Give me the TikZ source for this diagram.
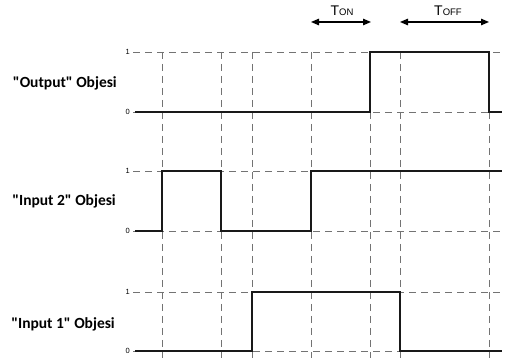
\documentclass[tikz,border=0pt]{standalone}
\usepackage{fontspec}
\setmainfont{Liberation Sans}
\newfontfamily\lbl{Carlito}
\usetikzlibrary{arrows.meta}

\begin{document}
\begin{tikzpicture}[x=1pt,y=-1pt,
  grid/.style={draw=black!55, line width=0.8pt, dash pattern=on 7pt off 5pt},
  sig/.style={draw=black!90, line width=1.8pt, line join=miter},
  span/.style={draw=black, line width=1.3pt,
    {Triangle[length=8pt,width=6.5pt]}-{Triangle[length=8pt,width=6.5pt]}},
  rowlabel/.style={font=\lbl\bfseries\fontsize{15.5}{17}\selectfont, anchor=east, inner sep=0pt},
  level/.style={font=\fontsize{7.5}{8}\selectfont, anchor=east, inner sep=0pt},
  tlabel/.style={inner sep=0pt, font=\fontsize{14}{14}\selectfont},
  ]
\useasboundingbox (0,0) rectangle (512,358);

% time grid
\foreach \x in {162,221,252,311,370,400,489}
  \draw[grid] (\x,52) -- (\x,358);
\foreach \y in {52,112,171,231,292,351}
  \draw[grid] (133,\y) -- (502,\y);

% level marks
\foreach \y/\t in {52/1,112/0,171/1,231/0,292/1,351/0}
  \node[level] at (130,\y) {\t};

% row captions
\node[rowlabel] (out)  at (117,83)  {"Output" Objesi};
\node[rowlabel] (in2)  at (116,201) {"Input 2" Objesi};
\node[rowlabel] (in1)  at (115,324) {"Input 1" Objesi};

% signal traces
\draw[sig] (135,112) -- (370,112) -- (370,52) -- (489,52) -- (489,112) -- (502,112);
\draw[sig] (135,231) -- (162,231) -- (162,171) -- (221,171) -- (221,231)
  -- (311,231) -- (311,171) -- (502,171);
\draw[sig] (135,351) -- (252,351) -- (252,292) -- (400,292) -- (400,351) -- (502,351);

% timing spans
\coordinate (ton-l) at (311,22);
\coordinate (ton-r) at (371,22);
\coordinate (toff-l) at (400,22);
\coordinate (toff-r) at (489,22);
\draw[span] (ton-l) -- (ton-r);
\draw[span] (toff-l) -- (toff-r);
\node[tlabel] (ton)  at (342,11) {T{\fontsize{9.5}{10}\selectfont ON}};
\node[tlabel] (toff) at (448,11) {T{\fontsize{9.5}{10}\selectfont OFF}};
\end{tikzpicture}
\end{document}
